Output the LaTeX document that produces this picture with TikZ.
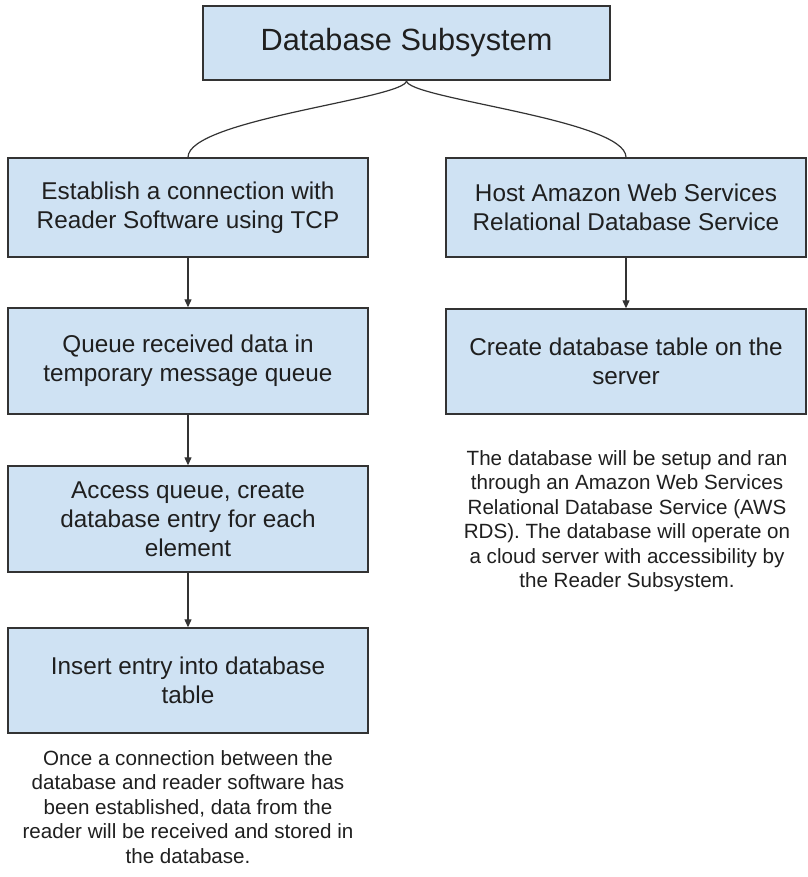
\documentclass[tikz,border=0pt]{standalone}
\usepackage{fontspec}
\setmainfont{Liberation Sans}
\usetikzlibrary{arrows.meta}
\definecolor{boxfill}{HTML}{CFE2F3}
\definecolor{boxline}{HTML}{333333}
\definecolor{txt}{HTML}{1F1F1F}
\tikzset{
  box/.style={draw=boxline, fill=boxfill, line width=1.4pt, minimum width=360pt, inner sep=0pt, align=center, text=txt, font=\fontsize{24.3}{28.8}\selectfont},
  titlebox/.style={box, minimum width=407pt, minimum height=74pt, font=\fontsize{30.7}{35}\selectfont},
  note/.style={align=center, text=txt, inner sep=0pt, font=\fontsize{20.6}{24.5}\selectfont},
  link/.style={draw=boxline, line width=1.2pt},
  arr/.style={link, -{Triangle[length=8pt,width=7pt]}}
}
\begin{document}
\begin{tikzpicture}[x=1pt,y=-1pt]
\useasboundingbox (0,0) rectangle (807,877);
\node[titlebox] (top) at (406.5,43) {Database Subsystem};
\node[box, minimum height=99pt] (l1) at (188,207.5) {Establish a connection with\\Reader Software using TCP};
\node[box, minimum height=106pt] (l2) at (188,361) {Queue received data in\\temporary message queue};
\node[box, minimum height=106pt] (l3) at (188,519) {Access queue, create\\database entry for each\\element};
\node[box, minimum height=105pt] (l4) at (188,680.5) {Insert entry into database\\table};
\node[box, minimum height=99pt] (r1) at (626,207.5) {Host Amazon Web Services\\Relational Database Service};
\node[box, minimum height=105pt] (r2) at (626,361.5) {Create database table on the\\server};
\node[note] (ln) at (188,807) {Once a connection between the\\database and reader software has\\been established, data from the\\reader will be received and stored in\\the database.};
\node[note] (rn) at (627,521) {The database will be setup and ran\\through an Amazon Web Services\\Relational Database Service (AWS\\RDS). The database will operate on\\a cloud server with accessibility by\\the Reader Subsystem.};
\draw[link] (top.south) .. controls +(0,18) and +(0,-38) .. (l1.north);
\draw[link] (top.south) .. controls +(0,18) and +(0,-38) .. (r1.north);
\draw[arr] (l1.south) -- (l2.north);
\draw[arr] (l2.south) -- (l3.north);
\draw[arr] (l3.south) -- (l4.north);
\draw[arr] (r1.south) -- (r2.north);
\end{tikzpicture}
\end{document}
